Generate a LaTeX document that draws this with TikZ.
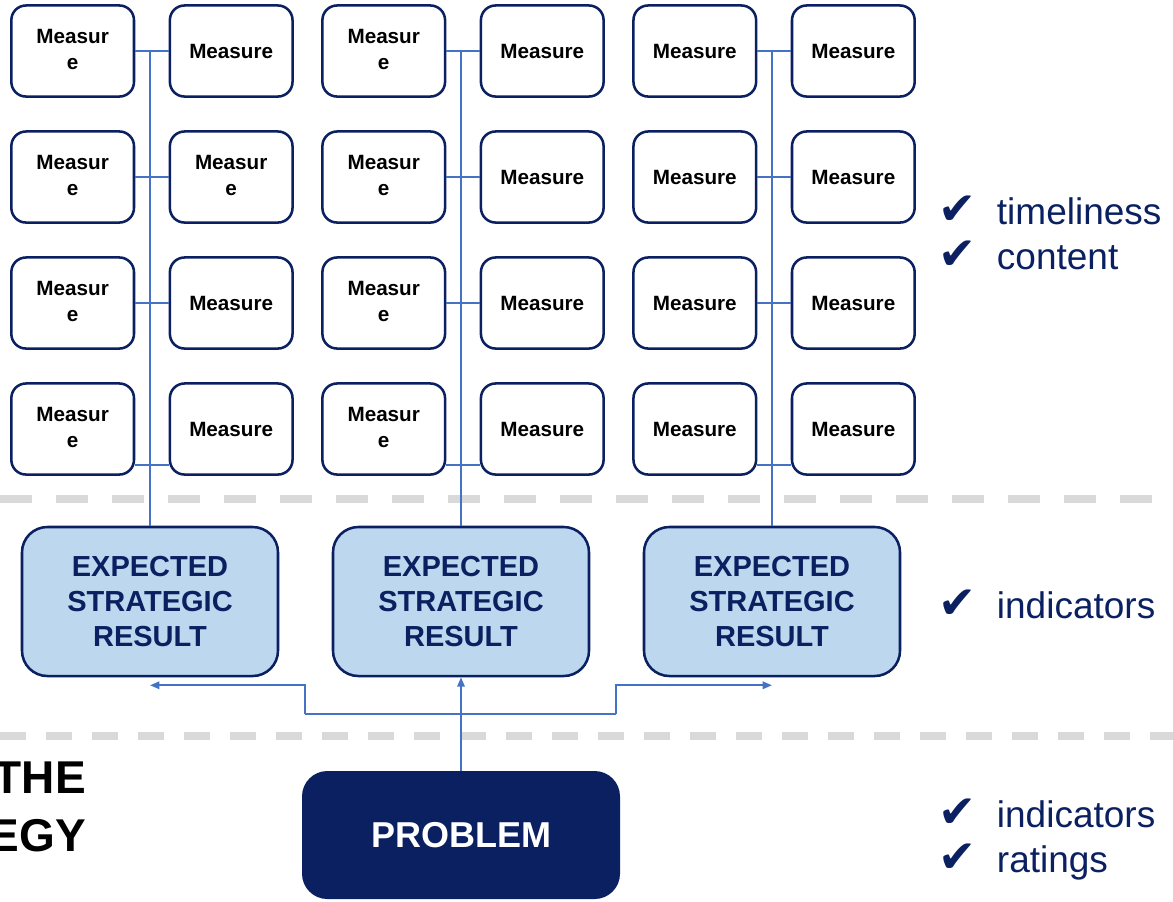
\documentclass[tikz,border=0pt]{standalone}
\usepackage{fontspec}
\setmainfont{Liberation Sans}
\newfontfamily\dejavu{DejaVu Sans}
\usepackage{tikz}
\usetikzlibrary{arrows.meta, matrix}

\definecolor{navy}{HTML}{0A2061}
\definecolor{wire}{HTML}{4472C4}
\definecolor{paleblue}{HTML}{BDD7EE}
\definecolor{rulegray}{HTML}{D9D9D9}

\tikzset{
  measurebox/.style={draw=navy, line width=1.9pt, rounded corners=11pt, fill=white,
    minimum width=92pt, minimum height=68.3pt, anchor=center, inner sep=2pt,
    font=\bfseries\fontsize{15.5}{19.5}\selectfont},
  resultbox/.style={draw=navy, line width=1.9pt, rounded corners=19pt, fill=paleblue,
    minimum width=192pt, minimum height=111.75pt, align=center, text=navy,
    font=\bfseries\fontsize{21.75}{26.25}\selectfont},
  problembox/.style={fill=navy, rounded corners=19pt, minimum width=238.5pt, minimum height=96pt,
    text=white, font=\bfseries\fontsize{27}{32}\selectfont},
  link/.style={draw=wire, line width=1.5pt},
  tip/.style={-{Triangle[length=7pt,width=5.5pt]}},
  divider/.style={draw=rulegray, line width=5.5pt, dash pattern=on 24pt off 18pt},
  checklist/.style={anchor=west, align=left, inner sep=0pt, text=navy,
    font=\fontsize{27.75}{33.75}\selectfont},
  leftlabel/.style={anchor=east, align=right, inner sep=0pt,
    font=\bfseries\fontsize{34.5}{43.5}\selectfont},
}
\newcommand{\ck}{\makebox[44pt][l]{\dejavu\fontsize{34}{34}\selectfont ✔}}
\newcommand{\mwrap}{\begin{tabular}{@{}c@{}}Measur\\e\end{tabular}}

\begin{document}
\begin{tikzpicture}[x=0.75pt, y=-0.75pt]
\useasboundingbox (0,0) rectangle (1173,901);

% dashed dividers
\draw[divider] (0,499) -- (1173,499);
\draw[divider, dash pattern=on 19.5pt off 15pt] (0,736) -- (1173,736);

% measures
\matrix[matrix of nodes, nodes={measurebox}, row sep=24.3pt, column sep=25pt] (grid) at (463,240) {
\mwrap & Measure &[-4.5pt] \mwrap & Measure &[-4.5pt] Measure & Measure \\
\mwrap & \mwrap & \mwrap & Measure & Measure & Measure \\
\mwrap & Measure & \mwrap & Measure & Measure & Measure \\
\mwrap & Measure & \mwrap & Measure & Measure & Measure \\
};

% expected results and problem
\node[resultbox] (esr1) at (150,601.5) {EXPECTED\\STRATEGIC\\RESULT};
\node[resultbox] (esr2) at (461,601.5) {EXPECTED\\STRATEGIC\\RESULT};
\node[resultbox] (esr3) at (772,601.5) {EXPECTED\\STRATEGIC\\RESULT};
\node[problembox] (problem) at (461,835) {PROBLEM};

% measures to results
\draw[link] (esr1.north) -- (esr1.north |- grid-1-1.east);
\draw[link] (esr2.north) -- (esr2.north |- grid-1-3.east);
\draw[link] (esr3.north) -- (esr3.north |- grid-1-5.east);
\draw[link] (grid-1-1.east) -- (grid-1-2.west);
\draw[link] (grid-2-1.east) -- (grid-2-2.west);
\draw[link] (grid-3-1.east) -- (grid-3-2.west);
\draw[link] ([yshift=-27pt]grid-4-1.east) -- ([yshift=-27pt]grid-4-2.west);
\draw[link] (grid-1-3.east) -- (grid-1-4.west);
\draw[link] (grid-2-3.east) -- (grid-2-4.west);
\draw[link] (grid-3-3.east) -- (grid-3-4.west);
\draw[link] ([yshift=-27pt]grid-4-3.east) -- ([yshift=-27pt]grid-4-4.west);
\draw[link] (grid-1-5.east) -- (grid-1-6.west);
\draw[link] (grid-2-5.east) -- (grid-2-6.west);
\draw[link] (grid-3-5.east) -- (grid-3-6.west);
\draw[link] ([yshift=-27pt]grid-4-5.east) -- ([yshift=-27pt]grid-4-6.west);

% problem to results
\coordinate (splitl) at (305,714);
\coordinate (splitr) at (616,714);
\draw[link] (splitl) -- (splitr);
\draw[link, tip] (splitl) |- ([yshift=-6pt]esr1.south);
\draw[link, tip] (splitr) |- ([yshift=-6pt]esr3.south);
\draw[link, tip] (problem.north) -- (esr2.south);

% side texts
\node[leftlabel] (strategy) at (86,807) {THE\\EGY};
\node[checklist] (quality) at (938,233) {\ck timeliness\\\ck content};
\node[checklist] (resultind) at (938,604) {\ck indicators};
\node[checklist] (problemind) at (938,840) {\ck indicators\\\ck ratings};
\end{tikzpicture}
\end{document}
